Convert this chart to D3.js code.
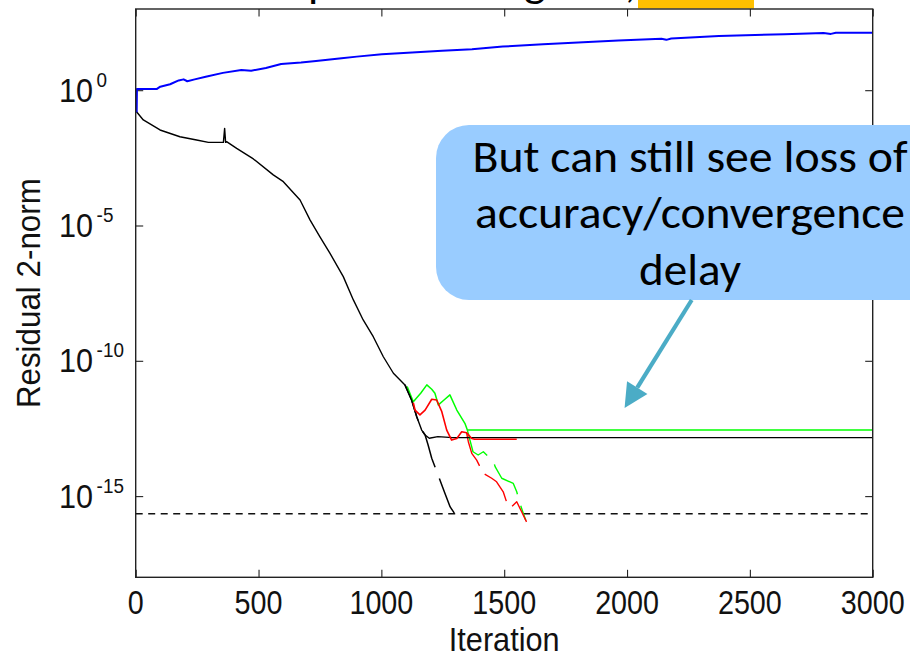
<!DOCTYPE html>
<html>
<head>
<meta charset="utf-8">
<script src="https://cdn.jsdelivr.net/npm/d3@7"></script>
<style>
  body { margin: 0; background: #fff; }
</style>
</head>
<body>
<div id="chart"></div>
<script>
// ---- data (iteration, log10 of residual 2-norm) ----
const xTicks = [0, 500, 1000, 1500, 2000, 2500, 3000];
const yTickExps = [0, -5, -10, -15];

const blueIter = [0, 4, 5, 85, 100, 140, 175, 195, 210, 240, 285, 355, 430, 470, 530, 592, 673, 734, 838, 900, 1002, 1125, 1247, 1369, 1494, 1658, 1821, 1965, 2140, 2160, 2180, 2374, 2641, 2800, 2830, 2850, 3000];
const blueExp  = [-0.79, -0.79, 0.04, 0.04, 0.13, 0.22, 0.36, 0.40, 0.33, 0.40, 0.50, 0.64, 0.75, 0.72, 0.82, 0.97, 1.02, 1.08, 1.18, 1.24, 1.33, 1.39, 1.46, 1.51, 1.61, 1.70, 1.77, 1.84, 1.90, 1.86, 1.91, 2.00, 2.07, 2.11, 2.08, 2.12, 2.12];

const blackIter = [0, 31, 99, 180, 248, 296, 357, 362, 366, 370, 411, 479, 560, 601, 669, 710, 750, 791, 845, 886, 926, 967, 1008, 1049, 1096, 1123, 1144, 1164, 1178, 1195, 1230, 1290, 3000];
const blackExp  = [-0.76, -1.10, -1.47, -1.72, -1.84, -1.93, -1.93, -1.41, -1.93, -1.90, -2.15, -2.54, -3.13, -3.38, -4.06, -4.80, -5.42, -6.03, -6.89, -7.75, -8.49, -9.11, -9.85, -10.46, -10.89, -11.45, -12.07, -12.56, -12.74, -12.86, -12.80, -12.84, -12.84];

const blackDashIter = [1096, 1123, 1144, 1164, 1178, 1190, 1205, 1230, 1259, 1280, 1295, 1307];
const blackDashExp  = [-10.89, -11.45, -12.07, -12.56, -12.74, -13.10, -13.60, -14.20, -14.90, -15.40, -15.60, -15.95];

const greenIter = [1105, 1130, 1160, 1185, 1205, 1218, 1232, 1255, 1279, 1307, 1340, 1350, 3000];
const greenExp  = [-10.95, -11.51, -11.20, -10.89, -11.05, -11.20, -11.63, -11.45, -11.26, -11.82, -12.31, -12.56, -12.56];

const greenDashIter = [1350, 1373, 1394, 1415, 1435, 1455, 1463, 1490, 1537, 1551, 1564, 1578, 1588];
const greenDashExp  = [-12.56, -13.36, -13.48, -13.36, -13.54, -13.67, -13.91, -14.34, -14.53, -14.84, -15.27, -15.64, -15.90];

const redIter = [1130, 1137, 1157, 1178, 1205, 1225, 1246, 1266, 1286, 1307, 1327, 1347, 1368, 1380, 1551];
const redExp  = [-11.55, -11.82, -12.00, -11.82, -11.42, -11.45, -11.88, -12.56, -12.93, -12.87, -12.62, -12.66, -12.87, -12.90, -12.90];

const redDashIter = [1347, 1354, 1368, 1388, 1415, 1449, 1469, 1496, 1516, 1530, 1551, 1571, 1591];
const redDashExp  = [-12.66, -12.99, -13.42, -13.67, -14.16, -14.34, -14.47, -14.84, -15.39, -15.39, -15.21, -15.58, -15.95];

const epsValue = 2.22e-16;

const calloutLines = ["But can still see loss of", "accuracy/convergence", "delay"];
const arrowTip = { iter: 1990, value: 1.8e-12 };

// ---- layout ----
var W = 910, H = 655;
var margin = { top: 9, right: 37.3, bottom: 77.7, left: 135.7 },
    width = W - margin.left - margin.right,
    height = H - margin.top - margin.bottom;

var svg = d3.select("#chart").append("svg")
    .attr("width", W).attr("height", H)
    .style("font-family", "'Liberation Sans', Arial, sans-serif");

var x = d3.scaleLinear().domain([0, 3000]).range([margin.left, margin.left + width]);
var y = d3.scaleLog().domain([1e-18, 1e3]).range([margin.top + height, margin.top]);

// clip
svg.append("clipPath").attr("id", "plot-clip")
  .append("rect").attr("x", margin.left).attr("y", margin.top).attr("width", width).attr("height", height);

// slide title above the picture: only its lowest strokes and the highlight show
svg.append("rect").attr("x", 638).attr("y", 0).attr("width", 116).attr("height", 8.5).attr("fill", "#FFC000");
[["p", 308], ["g", 524], [",", 625]].forEach(function (d) {
  svg.append("text").attr("x", d[1]).attr("y", -3)
    .style("font-family", "Carlito, Lato, sans-serif").style("font-size", "46px")
    .text(d[0]);
});

// ticks (inward, MATLAB style)
var yTickVals = yTickExps.map(e => Math.pow(10, e));
function styleAxis(g) {
  g.select(".domain").remove();
  g.selectAll(".tick line").attr("stroke", "#222").attr("stroke-width", 1.1);
  g.selectAll(".tick text").remove();
}
svg.append("g").attr("transform", "translate(0," + (margin.top + height) + ")")
  .call(d3.axisBottom(x).tickValues(xTicks).tickSize(-7.5)).call(styleAxis);
svg.append("g").attr("transform", "translate(0," + margin.top + ")")
  .call(d3.axisTop(x).tickValues(xTicks).tickSize(-7.5)).call(styleAxis);
svg.append("g").attr("transform", "translate(" + margin.left + ",0)")
  .call(d3.axisLeft(y).tickValues(yTickVals).tickSize(-7.5)).call(styleAxis);
svg.append("g").attr("transform", "translate(" + (margin.left + width) + ",0)")
  .call(d3.axisRight(y).tickValues(yTickVals).tickSize(-7.5)).call(styleAxis);

// lines
var plot = svg.append("g").attr("clip-path", "url(#plot-clip)");
var line = d3.line().x(d => x(d[0])).y(d => y(d[1]));
function series(iters, exps) { return iters.map((it, i) => [it, Math.pow(10, exps[i])]); }

plot.append("path").datum([[0, epsValue], [3000, epsValue]])
  .attr("fill", "none").attr("stroke", "#111").attr("stroke-width", 1.4)
  .attr("stroke-dasharray", "7,5.5").attr("d", line);

var lines = [
  { it: blackDashIter, ex: blackDashExp, color: "#000", w: 1.5, dash: "38,12" },
  { it: greenDashIter, ex: greenDashExp, color: "#00ff00", w: 1.4, dash: "40,12" },
  { it: redDashIter, ex: redDashExp, color: "#ff0000", w: 1.4, dash: "36,10" },
  { it: greenIter, ex: greenExp, color: "#00ff00", w: 1.5, dash: null },
  { it: blackIter, ex: blackExp, color: "#000", w: 1.4, dash: null },
  { it: redIter, ex: redExp, color: "#ff0000", w: 1.6, dash: null },
  { it: blueIter, ex: blueExp, color: "#0000ff", w: 2, dash: null }
];
lines.forEach(function (s) {
  plot.append("path").datum(series(s.it, s.ex))
    .attr("fill", "none").attr("stroke", s.color).attr("stroke-width", s.w)
    .attr("stroke-dasharray", s.dash).attr("stroke-linejoin", "round")
    .attr("d", line);
});

// frame
svg.append("rect").attr("x", margin.left).attr("y", margin.top)
  .attr("width", width).attr("height", height)
  .attr("fill", "none").attr("stroke", "#222").attr("stroke-width", 1.4);

// tick labels
var sx = 0.87;
xTicks.forEach(function (v) {
  svg.append("text").attr("transform", "translate(" + x(v) + ",614) scale(" + sx + ",1)")
    .attr("text-anchor", "middle").style("font-size", "33px").attr("fill", "#111").text(v);
});
yTickExps.forEach(function (e) {
  var g = svg.append("g").attr("transform", "translate(93," + (y(Math.pow(10, e)) + 11.5) + ") scale(0.9,1)");
  g.append("text").attr("text-anchor", "end").style("font-size", "34px").attr("fill", "#111").text("10");
  g.append("text").attr("x", 4).attr("y", -15).style("font-size", "21px").attr("fill", "#111").text(e === 0 ? "0" : "-" + (-e));
});

// axis titles
svg.append("text").attr("transform", "translate(" + x(1500) + ",651) scale(0.93,1)")
  .attr("text-anchor", "middle").style("font-size", "33px").attr("fill", "#111").text("Iteration");
svg.append("text").attr("transform", "translate(40," + y(Math.pow(10, -7.5)) + ") rotate(-90) scale(0.95,1)")
  .attr("text-anchor", "middle").style("font-size", "33px").attr("fill", "#111").text("Residual 2-norm");

// callout
var box = { x: 436, y: 125, w: 508, h: 175 };
svg.append("rect").attr("x", box.x).attr("y", box.y).attr("width", box.w).attr("height", box.h)
  .attr("rx", 33).attr("fill", "#99CCFF");
var lineWidths = [435, 430, 102];
calloutLines.forEach(function (t, i) {
  svg.append("text").attr("x", 690).attr("y", 171.7 + i * 56.7)
    .attr("text-anchor", "middle")
    .attr("textLength", lineWidths[i]).attr("lengthAdjust", "spacingAndGlyphs")
    .style("font-family", "Carlito, Lato, sans-serif").style("font-size", "45px")
    .attr("fill", "#000").text(t);
});

// arrow
var ax0 = 691.7, ay0 = box.y + box.h;
var ax1 = x(arrowTip.iter), ay1 = y(arrowTip.value);
var dx = ax1 - ax0, dy = ay1 - ay0, len = Math.sqrt(dx * dx + dy * dy);
var ux = dx / len, uy = dy / len, headL = 24, headW = 12;
var bx = ax1 - ux * headL, by = ay1 - uy * headL;
svg.append("line").attr("x1", ax0).attr("y1", ay0).attr("x2", bx).attr("y2", by)
  .attr("stroke", "#4BACC6").attr("stroke-width", 4.2);
svg.append("path")
  .attr("d", "M" + ax1 + "," + ay1 + "L" + (bx - uy * headW) + "," + (by + ux * headW) + "L" + (bx + uy * headW) + "," + (by - ux * headW) + "Z")
  .attr("fill", "#4BACC6");
</script>
</body>
</html>
